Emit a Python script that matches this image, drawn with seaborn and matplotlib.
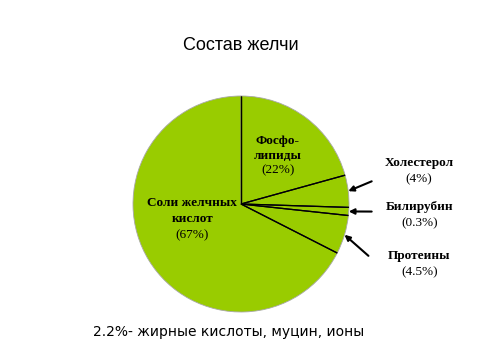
import numpy as np
import matplotlib
matplotlib.use("Agg")
import matplotlib.pyplot as plt
import seaborn as sns

sns.set_theme(style="white")
plt.rcParams['font.family'] = ['Liberation Sans', 'DejaVu Sans']
plt.rcParams['text.color'] = 'black'

# data
names = ["Фосфо-\nлипиды", "Холестерол", "Билирубин", "Протеины", "Соли желчных\nкислот"]
pct_labels = ["(22%)", "(4%)", "(0.3%)", "(4.5%)", "(67%)"]
values = [20.7, 4.8, 1.2, 5.8, 67.5]
title = "Состав желчи"
footnote = "2.2%- жирные кислоты, муцин, ионы"

GREEN = "#99CC00"
W, H = 480, 360
cx, cy, R = 241, 204, 108

fig = plt.figure(figsize=(W / 100, H / 100), dpi=100)
fig.patch.set_facecolor("white")
ax = fig.add_axes([(cx - R) / W, (H - cy - R) / H, 2 * R / W, 2 * R / H])

wedges, _ = ax.pie(values, startangle=90, counterclock=False, radius=1,
                   colors=[GREEN] * len(values),
                   wedgeprops=dict(linewidth=0.6, edgecolor="#a8a8a8"))
ax.set_xlim(-1, 1)
ax.set_ylim(-1, 1)
ax.set_aspect("equal")
ax.axis("off")

# radial separators (black) from the wedge angles
for w in wedges:
    for ang in (w.theta1, w.theta2):
        a = np.deg2rad(ang)
        ax.plot([0, np.cos(a)], [0, np.sin(a)], color="black", lw=0.9,
                solid_capstyle="butt", zorder=3, clip_on=False)

serif = ['Liberation Serif', 'DejaVu Serif']
fs = 9.5

# inside labels
ax.text(0.34, 0.515, names[0], ha="center", va="center", fontsize=fs,
        fontweight="bold", family=serif, linespacing=1.35)
ax.text(0.34, 0.31, pct_labels[0], ha="center", va="center", fontsize=fs, family=serif)
ax.text(-0.45, -0.065, names[4], ha="center", va="center", fontsize=fs,
        fontweight="bold", family=serif, linespacing=1.35)
ax.text(-0.45, -0.29, pct_labels[4], ha="center", va="center", fontsize=fs, family=serif)

# outside labels with arrows
label_y = [0.38, -0.03, -0.48]
tails = [(1.21, 0.21), (1.21, -0.07), (1.18, -0.48)]
for i, (ly, tail) in zip([1, 2, 3], zip(label_y, tails)):
    w = wedges[i]
    mid = np.deg2rad((w.theta1 + w.theta2) / 2)
    tip = (1.0 * np.cos(mid), 1.0 * np.sin(mid))
    ax.text(1.65, ly, names[i], ha="center", va="center", fontsize=fs,
            fontweight="bold", family=serif)
    ax.text(1.65, ly - 0.15, pct_labels[i], ha="center", va="center",
            fontsize=fs, family=serif)
    ax.annotate("", xy=tip, xytext=tail,
                arrowprops=dict(arrowstyle="-|>", color="black", lw=1.5,
                                mutation_scale=8, shrinkA=0, shrinkB=0))

fig.text(241 / W, 1 - 46 / H, title, ha="center", va="center", fontsize=13)
fig.text(229 / W, 1 - 332 / H, footnote, ha="center", va="center", fontsize=10,
         family=['DejaVu Sans'])

fig.savefig("out.png", dpi=100)
